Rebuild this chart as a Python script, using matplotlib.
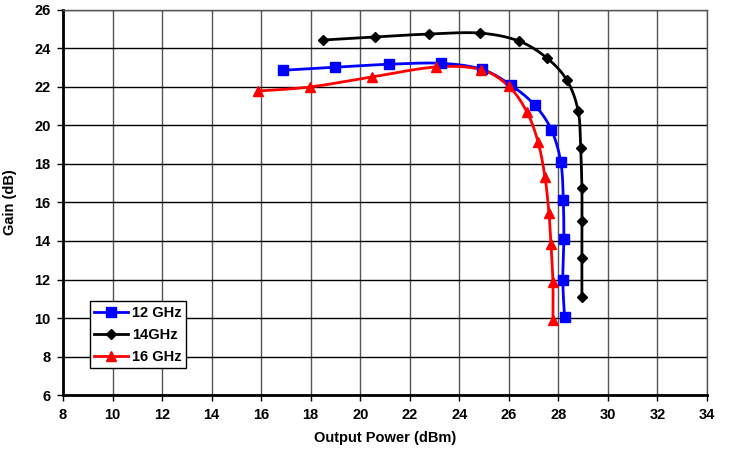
import matplotlib.pyplot as plt
import numpy as np

plt.rcParams['font.family'] = ['Liberation Sans', 'DejaVu Sans']
plt.rcParams['font.weight'] = 'bold'

# ---------------------------------------------------------
# Data
# ---------------------------------------------------------
pout_12 = [16.9, 19.0, 21.15, 23.25, 24.9, 26.08, 27.05, 27.72, 28.1, 28.2, 28.22, 28.18, 28.25]
gain_12 = [22.87, 23.03, 23.18, 23.23, 22.92, 22.1, 21.05, 19.77, 18.08, 16.12, 14.08, 11.97, 10.03]

pout_14 = [18.5, 20.6, 22.78, 24.83, 26.4, 27.54, 28.35, 28.8, 28.9, 28.95, 28.95, 28.95, 28.95]
gain_14 = [24.44, 24.6, 24.75, 24.8, 24.39, 23.5, 22.34, 20.75, 18.83, 16.75, 15.04, 13.1, 11.07]

pout_16 = [15.87, 17.97, 20.47, 23.06, 24.88, 26.0, 26.73, 27.18, 27.46, 27.62, 27.7, 27.78, 27.78]
gain_16 = [21.79, 22.0, 22.52, 23.04, 22.9, 22.03, 20.7, 19.14, 17.32, 15.45, 13.84, 11.87, 9.9]

x_ticks = list(range(8, 35, 2))
y_ticks = list(range(6, 27, 2))


def smooth(xs, ys, n=20):
    # Catmull-Rom curve through the points (like Excel's smoothed line)
    p = np.column_stack([xs, ys]).astype(float)
    p = np.vstack([p[0], p, p[-1]])
    out = []
    for i in range(1, len(p) - 2):
        p0, p1, p2, p3 = p[i - 1], p[i], p[i + 1], p[i + 2]
        for t in np.linspace(0, 1, n, endpoint=False):
            t2, t3 = t * t, t * t * t
            pt = 0.5 * ((2 * p1) + (-p0 + p2) * t
                        + (2 * p0 - 5 * p1 + 4 * p2 - p3) * t2
                        + (-p0 + 3 * p1 - 3 * p2 + p3) * t3)
            out.append(pt)
    out.append(p[-2])
    out = np.array(out)
    return out[:, 0], out[:, 1]


fig = plt.figure(figsize=(7.34, 4.53), dpi=100)
ax = fig.add_axes([0.0858, 0.128, 0.8774, 0.850])

series = [
    (pout_12, gain_12, 'blue', 's', 7, '12 GHz'),
    (pout_14, gain_14, 'black', 'D', 5, '14GHz'),
    (pout_16, gain_16, 'red', '^', 7.5, '16 GHz'),
]
for xs, ys, col, mk, ms, lab in series:
    sx, sy = smooth(xs, ys)
    ax.plot(sx, sy, color=col, linewidth=2, zorder=3)
    ax.plot(xs, ys, linestyle='none', marker=mk, markersize=ms, color=col, zorder=4)
    ax.plot([], [], color=col, linewidth=2, marker=mk, markersize=ms, label=lab)

ax.set_xlim(8, 34)
ax.set_ylim(6, 26)
ax.set_xticks(x_ticks)
ax.set_yticks(y_ticks)
ax.tick_params(labelsize=10.5, length=4, width=1, direction='out', pad=5)
for lbl in ax.get_xticklabels() + ax.get_yticklabels():
    lbl.set_fontweight('bold')

ax.grid(True, axis='y', color='black', linewidth=1)
ax.grid(True, axis='x', color='#555555', linewidth=1)
ax.set_axisbelow(True)

for side in ['left', 'bottom']:
    ax.spines[side].set_linewidth(2)
    ax.spines[side].set_color('black')
for side in ['top', 'right']:
    ax.spines[side].set_linewidth(1)
    ax.spines[side].set_color('#555555')

ax.set_xlabel('Output Power (dBm)', fontsize=10.5, fontweight='bold', labelpad=7)
ax.set_ylabel('Gain (dB)', fontsize=10.5, fontweight='bold', labelpad=12)

leg = ax.legend(loc='lower left', bbox_to_anchor=(0.042, 0.07), borderaxespad=0,
                fancybox=False, framealpha=1, edgecolor='black',
                prop={'size': 10.5, 'weight': 'bold'}, handlelength=2.3,
                borderpad=0.3, labelspacing=0.55, handletextpad=0.3)
leg.get_frame().set_linewidth(1)

fig.savefig('out.png', dpi=100)
